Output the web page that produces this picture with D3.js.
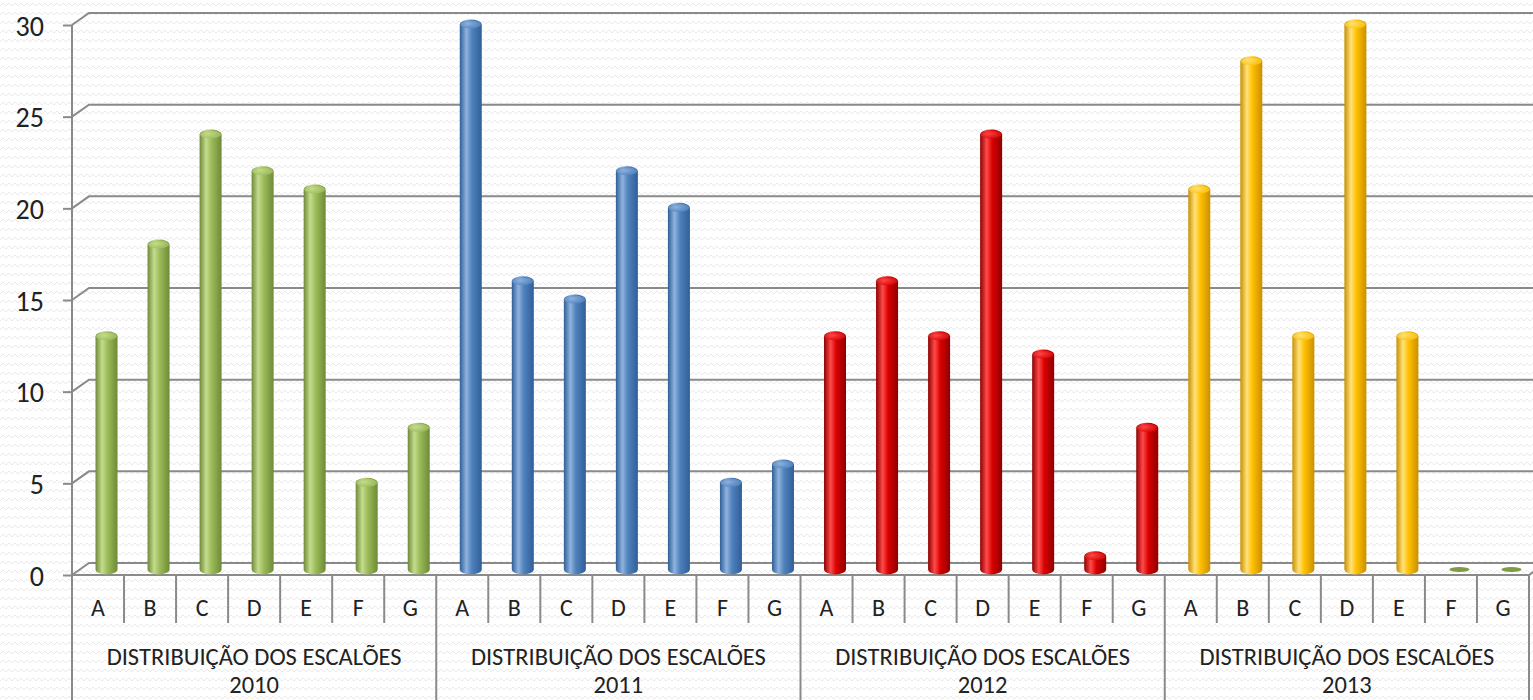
<!DOCTYPE html>
<html>
<head>
<meta charset="utf-8">
<script src="https://cdn.jsdelivr.net/npm/d3@7"></script>
<style>
  html, body { margin: 0; padding: 0; background: #fff; overflow: hidden; }
  svg { display: block; }
  text { font-family: Calibri, Carlito, Lato, sans-serif; fill: #222; }
</style>
</head>
<body>
<script>
// ---- Data ----
const letters = ["A", "B", "C", "D", "E", "F", "G"];
const groups = ["2010", "2011", "2012", "2013"];
const groupTitle = "DISTRIBUIÇÃO DOS ESCALÕES";
const values2010 = [13, 18, 24, 22, 21, 5, 8];
const values2011 = [30, 16, 15, 22, 20, 5, 6];
const values2012 = [13, 16, 13, 24, 12, 1, 8];
const values2013 = [21, 28, 13, 30, 13, 0, 0];
const yTicks = [0, 5, 10, 15, 20, 25, 30];
const seriesColors = ["#9BBB59", "#4F81BD", "#D90000", "#FFC000"];
const seriesDark = ["#6E8A37", "#2F5F97", "#8E0000", "#C89000"];
const seriesLight = ["#C5DC8E", "#8FB3DE", "#FF4A4A", "#FFE27A"];

const allValues = [values2010, values2011, values2012, values2013];
const data = [];
groups.forEach((g, gi) => letters.forEach((l, li) => {
  data.push({ key: g + "-" + l, group: g, gi, letter: l, value: allValues[gi][li] });
}));

// ---- Layout ----
const W = 1533, H = 700;
const left = 72, right = 1529;
const baseY = 575, topY = 25;
const depthX = 17, depthY = -12;   // back wall offset
const barDX = 8.5, barDY = -5.5;   // bar depth (middle)

const svg = d3.select("body").append("svg").attr("width", W).attr("height", H);
const defs = svg.append("defs");

// subtle zigzag background texture
const pat = defs.append("pattern").attr("id", "bgpat").attr("width", 12).attr("height", 9)
  .attr("patternUnits", "userSpaceOnUse");
pat.append("rect").attr("width", 12).attr("height", 9).attr("fill", "#ffffff");
pat.append("path").attr("d", "M0,6 L3,3 L6,6 L9,3 L12,6").attr("fill", "none")
  .attr("stroke", "#e9e9e9").attr("stroke-width", 1);
svg.append("rect").attr("width", W).attr("height", H).attr("fill", "url(#bgpat)");

// gradients per series
seriesColors.forEach((c, i) => {
  const g = defs.append("linearGradient").attr("id", "cyl" + i)
    .attr("x1", "0%").attr("x2", "100%").attr("y1", "0%").attr("y2", "0%");
  g.append("stop").attr("offset", "0%").attr("stop-color", seriesDark[i]);
  g.append("stop").attr("offset", "30%").attr("stop-color", seriesLight[i]);
  g.append("stop").attr("offset", "55%").attr("stop-color", c);
  g.append("stop").attr("offset", "100%").attr("stop-color", seriesDark[i]);
  const t = defs.append("radialGradient").attr("id", "cap" + i)
    .attr("cx", "40%").attr("cy", "40%").attr("r", "70%");
  t.append("stop").attr("offset", "0%").attr("stop-color", seriesLight[i]);
  t.append("stop").attr("offset", "100%").attr("stop-color", c);
});

// ---- Scales ----
const x = d3.scaleBand().domain(data.map(d => d.key)).range([left, right]).paddingInner(0).paddingOuter(0);
const y = d3.scaleLinear().domain([0, 30]).range([baseY, topY]);
const gx = d3.scaleBand().domain(groups).range([left, right]);

const gridColor = "#8A8A8A";

// gridlines on back wall with diagonal from axis
const grid = svg.append("g");
yTicks.forEach(t => {
  const yy = y(t);
  grid.append("path")
    .attr("d", `M${left},${yy} L${left + depthX},${yy + depthY} L${W + 5},${yy + depthY}`)
    .attr("fill", "none").attr("stroke", gridColor).attr("stroke-width", 2);
});

// floor front edge and right floor edge
svg.append("path")
  .attr("d", `M${left},${baseY} L${right},${baseY} L${right + depthX},${baseY + depthY}`)
  .attr("fill", "none").attr("stroke", gridColor).attr("stroke-width", 2);

// y axis (left)
const yAxis = d3.axisLeft(y).tickValues(yTicks).tickSize(9).tickPadding(19);
const ya = svg.append("g").attr("transform", `translate(${left},0)`).call(yAxis);
ya.select(".domain").remove();
ya.selectAll(".tick line").attr("stroke", gridColor).attr("stroke-width", 2);
ya.selectAll(".tick text").attr("font-size", 28).attr("dy", "0.36em")
  .style("font-family", "Calibri, Carlito, Lato, sans-serif").attr("fill", "#222");
svg.append("line").attr("x1", left).attr("x2", left).attr("y1", topY).attr("y2", H)
  .attr("stroke", gridColor).attr("stroke-width", 2);

// category axis separators
const sepG = svg.append("g");
data.forEach((d, i) => {
  if (i === 0) return;
  const xx = x(d.key);
  const isGroup = d.letter === "A";
  sepG.append("line").attr("x1", xx).attr("x2", xx)
    .attr("y1", baseY).attr("y2", isGroup ? H : baseY + 48)
    .attr("stroke", gridColor).attr("stroke-width", 2);
});
sepG.append("line").attr("x1", right).attr("x2", right).attr("y1", baseY).attr("y2", H)
  .attr("stroke", gridColor).attr("stroke-width", 2);

// letter labels
svg.append("g").selectAll("text").data(data).join("text")
  .attr("x", d => x(d.key) + x.bandwidth() / 2)
  .attr("y", 616)
  .attr("text-anchor", "middle")
  .attr("font-size", 24)
  .text(d => d.letter);

// group labels
const gl = svg.append("g").selectAll("g").data(groups).join("g");
gl.append("text").attr("x", g => gx(g) + gx.bandwidth() / 2).attr("y", 665)
  .attr("text-anchor", "middle").attr("font-size", 24.5).text(groupTitle);
gl.append("text").attr("x", g => gx(g) + gx.bandwidth() / 2).attr("y", 693)
  .attr("text-anchor", "middle").attr("font-size", 24.5).text(g => g);

// ---- Cylinder bars ----
const bw = 22, ry = 5;
const barG = svg.append("g");
data.forEach(d => {
  const cx = x(d.key) + x.bandwidth() / 2 + barDX;
  const y0 = y(0) + barDY;
  const y1 = y(d.value) + barDY;
  const xl = cx - bw / 2, xr = cx + bw / 2;
  const col = d.gi;
  if (d.value === 0) {
    barG.append("ellipse").attr("cx", cx).attr("cy", y0).attr("rx", bw / 2 - 1).attr("ry", 2.5)
      .attr("fill", "#7F9B44");
    return;
  }
  const topInner = y1 + ry;
  const path = `M${xl},${topInner} L${xl},${y0} A${bw / 2},${ry} 0 0 0 ${xr},${y0} L${xr},${topInner} A${bw / 2},${ry} 0 0 0 ${xl},${topInner} Z`;
  barG.append("path").attr("d", path).attr("fill", `url(#cyl${col})`);
  barG.append("ellipse").attr("cx", cx).attr("cy", topInner).attr("rx", bw / 2 - 0.5).attr("ry", ry - 1)
    .attr("fill", `url(#cap${col})`).attr("opacity", 0.85);
});
</script>
</body>
</html>
